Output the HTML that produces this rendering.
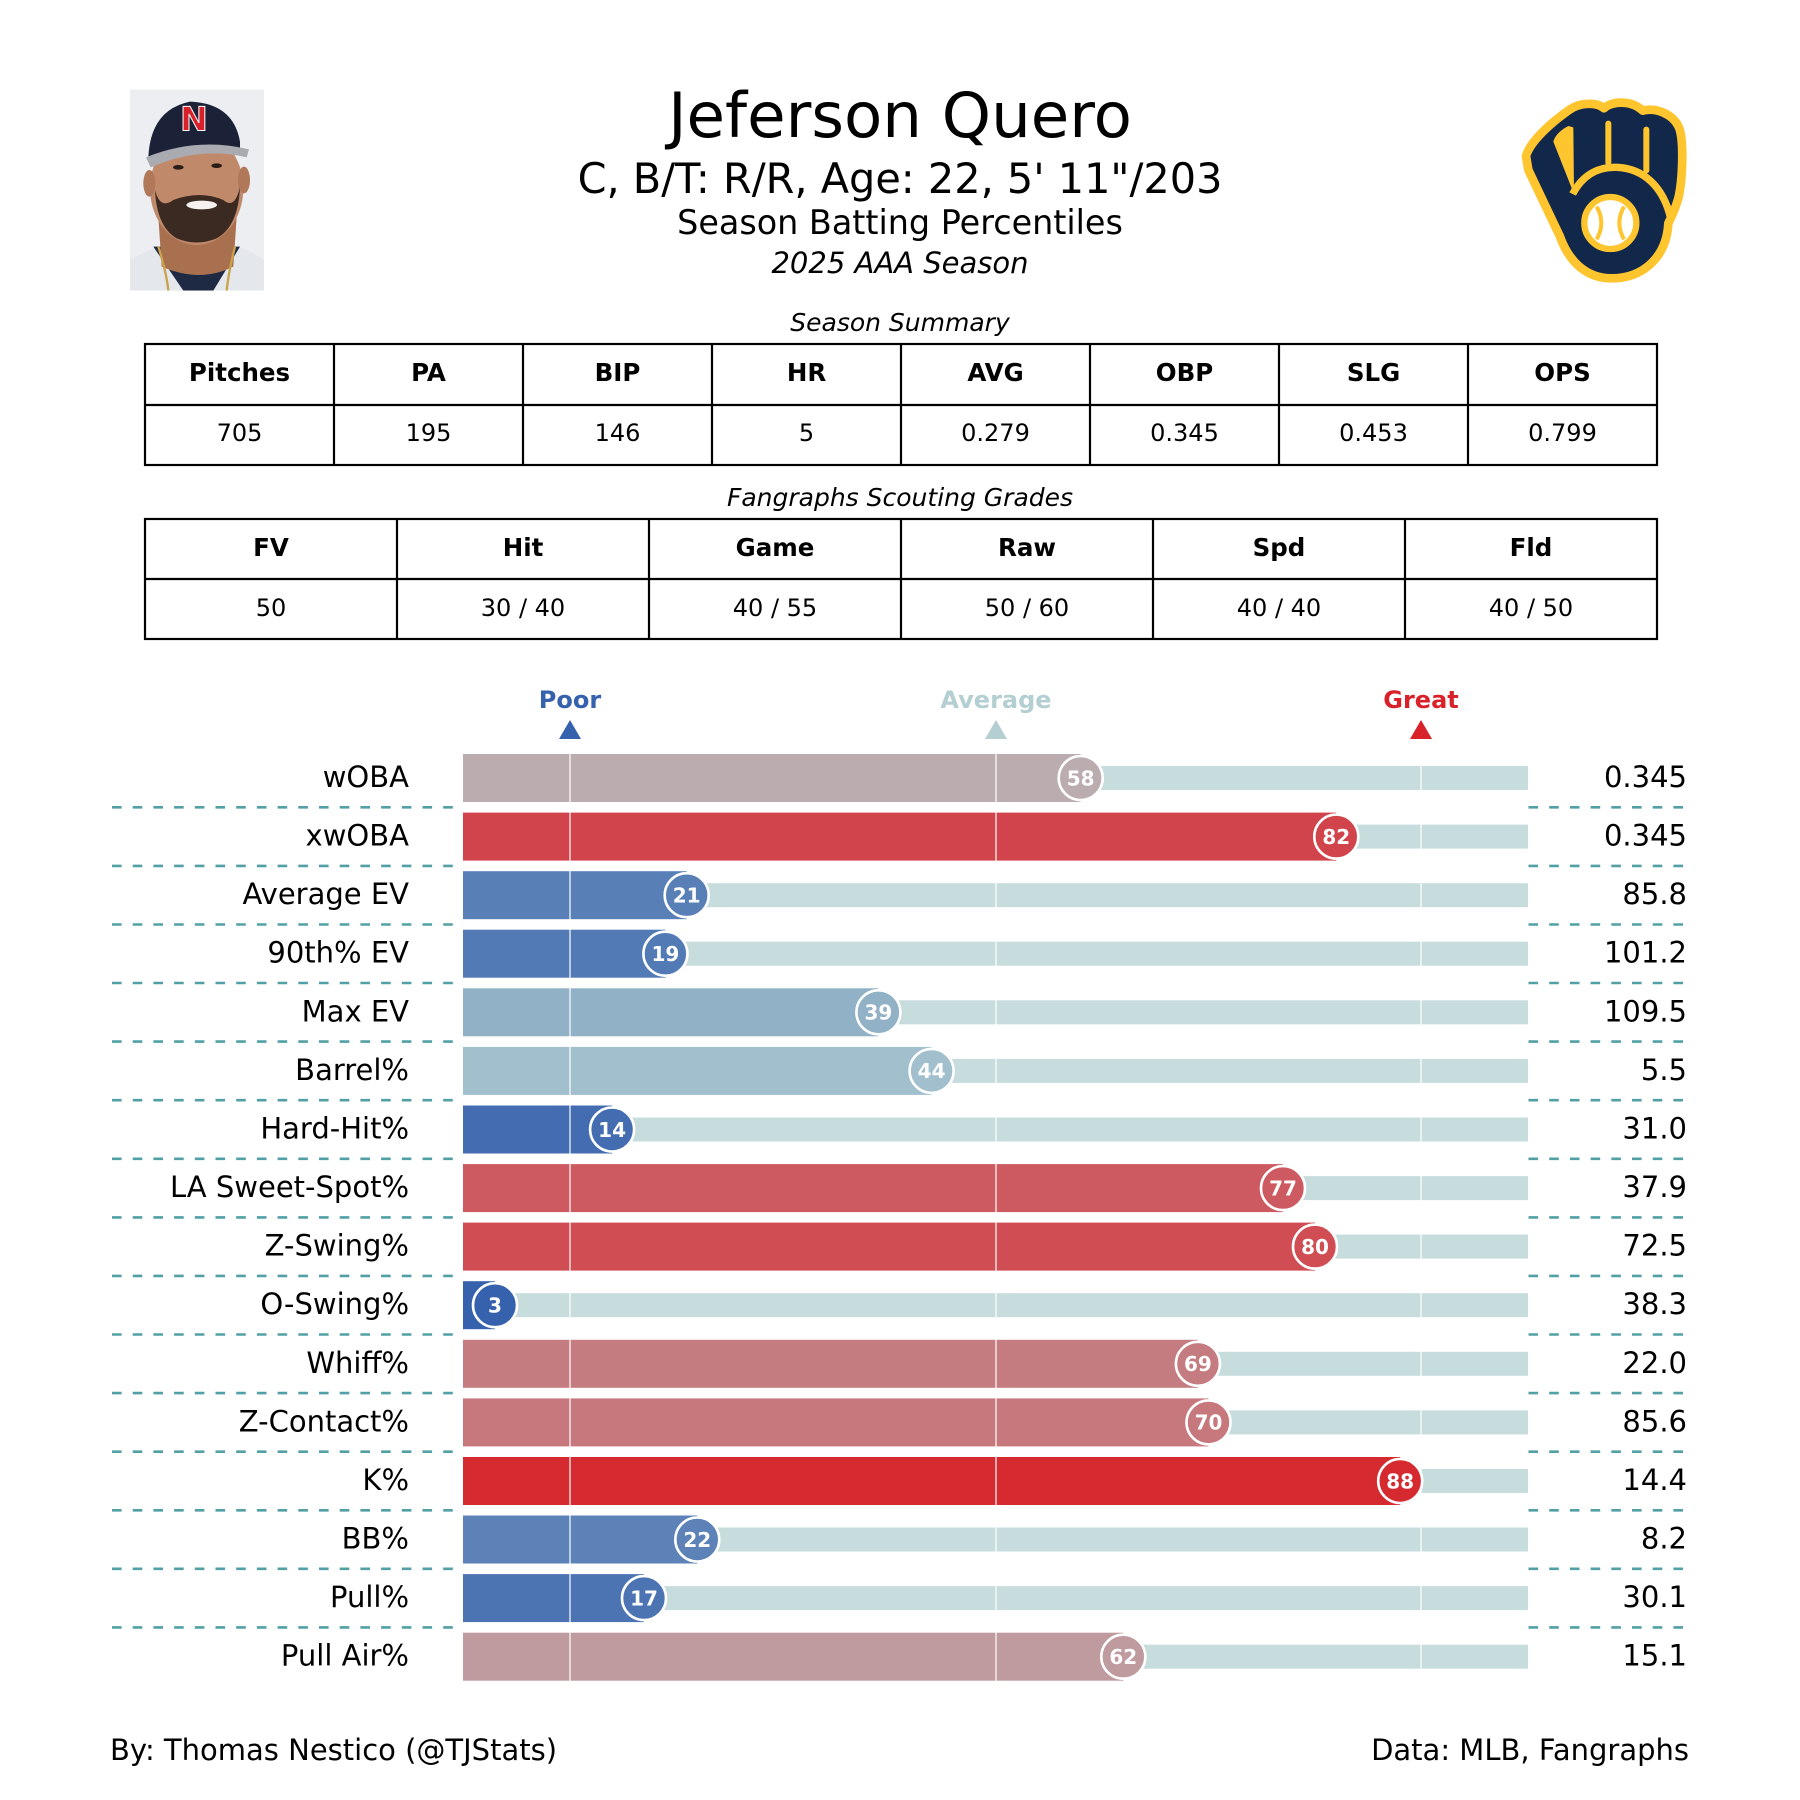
<!DOCTYPE html>
<html><head><meta charset="utf-8"><style>
html,body{margin:0;padding:0;background:#fff;}
svg{display:block;}
text{font-family:"DejaVu Sans","Liberation Sans",sans-serif;}
</style></head><body>
<svg width="1800" height="1800" viewBox="0 0 1800 1800" xmlns="http://www.w3.org/2000/svg">
<rect width="1800" height="1800" fill="#fff"/>

<!-- Photo placeholder -->
<defs><clipPath id="pc"><rect x="90" y="58" width="402" height="604"/></clipPath></defs>
<g transform="translate(100,70) scale(0.33333)">
 <g clip-path="url(#pc)">
  <rect x="90" y="58" width="402" height="604" fill="#eceef1"/>
  <path d="M90,570 Q160,530 200,525 L400,525 Q450,540 492,570 L492,662 L90,662 Z" fill="#e4e7eb"/>
  <path d="M160,530 L420,530 L340,662 L250,662 Z" fill="#1e2a44"/>
  <path d="M175,440 L410,440 L400,590 Q300,640 185,590 Z" fill="#a8704f"/>
  <ellipse cx="290" cy="355" rx="140" ry="170" fill="#c08a6a"/>
  <ellipse cx="148" cy="340" rx="18" ry="40" fill="#b07858"/>
  <ellipse cx="432" cy="330" rx="18" ry="40" fill="#b07858"/>
  <path d="M165,360 Q170,470 230,505 Q290,530 350,505 Q415,470 420,350 Q405,420 370,390 Q300,360 220,390 Q180,420 165,360 Z" fill="#3a2a22"/>
  <ellipse cx="305" cy="405" rx="46" ry="13" fill="#f4f1ee"/>
  <ellipse cx="235" cy="292" rx="16" ry="7" fill="#2a1e18"/>
  <ellipse cx="350" cy="287" rx="16" ry="7" fill="#2a1e18"/>
  <path d="M145,265 Q150,120 270,95 Q400,100 420,215 L420,240 Q300,215 145,265 Z" fill="#1b2238"/>
  <path d="M138,262 Q290,200 447,238 L440,262 Q300,228 152,292 Z" fill="#a9abb1"/>
  <path d="M175,530 Q200,610 205,662 M405,530 Q385,610 380,662" stroke="#c9a24a" stroke-width="7" fill="none"/>
 </g>
 <text x="282" y="182" text-anchor="middle" font-family="Liberation Serif,serif" font-weight="bold" font-size="100" fill="#d8202a" stroke="#fff" stroke-width="3">N</text>
</g>

<!-- Logo -->
<g transform="translate(1500,70) scale(0.33333)">
 <path d="M78,258 C90,215 150,160 210,118 C240,98 290,95 312,115 C335,92 395,90 428,122 C465,112 520,130 538,175 C552,215 548,330 535,385 C525,420 515,440 505,460 C500,560 430,625 335,625 C255,625 205,570 180,500 L85,300 Z" fill="#12284b" stroke="#ffc52f" stroke-width="26" stroke-linejoin="round"/>
 <path d="M160,215 C165,195 185,178 205,168 L220,172 L222,372 Z" fill="#ffc52f"/>
 <rect x="316" y="152" width="18" height="135" rx="9" fill="#ffc52f"/>
 <rect x="430" y="170" width="18" height="140" rx="9" fill="#ffc52f"/>
 <path d="M218,372 C250,310 300,290 350,292 C430,295 490,350 512,445" stroke="#ffc52f" stroke-width="22" fill="none"/>
 <circle cx="331" cy="459" r="78" fill="#fff" stroke="#ffc52f" stroke-width="19"/>
 <path d="M290,410 Q318,459 290,508 M372,410 Q344,459 372,508" stroke="#ffc52f" stroke-width="12" fill="none"/>
</g>

<!-- Titles -->
<text x="900" y="137" text-anchor="middle" font-size="62.6" fill="#000">Jeferson Quero</text>
<text x="900" y="193" text-anchor="middle" font-size="41.4" fill="#000">C, B/T: R/R, Age: 22, 5' 11"/203</text>
<text x="900" y="234" text-anchor="middle" font-size="33.4" fill="#000">Season Batting Percentiles</text>
<text x="900" y="273" text-anchor="middle" font-size="29" font-style="italic" fill="#000">2025 AAA Season</text>

<!-- Season summary table -->
<text x="900" y="331" text-anchor="middle" font-size="25" font-style="italic" fill="#000">Season Summary</text>
<g stroke="#000" stroke-width="2.2" fill="none">
 <rect x="145" y="344" width="1512" height="121"/>
 <line x1="145" y1="405" x2="1657" y2="405"/>
 <line x1="334" y1="344" x2="334" y2="465"/>
 <line x1="523" y1="344" x2="523" y2="465"/>
 <line x1="712" y1="344" x2="712" y2="465"/>
 <line x1="901" y1="344" x2="901" y2="465"/>
 <line x1="1090" y1="344" x2="1090" y2="465"/>
 <line x1="1279" y1="344" x2="1279" y2="465"/>
 <line x1="1468" y1="344" x2="1468" y2="465"/>
</g>
<g font-size="24.5" font-weight="bold" text-anchor="middle" fill="#000">
 <text x="239.5" y="381">Pitches</text><text x="428.5" y="381">PA</text><text x="617.5" y="381">BIP</text><text x="806.5" y="381">HR</text>
 <text x="995.5" y="381">AVG</text><text x="1184.5" y="381">OBP</text><text x="1373.5" y="381">SLG</text><text x="1562.5" y="381">OPS</text>
</g>
<g font-size="24" text-anchor="middle" fill="#000">
 <text x="239.5" y="441">705</text><text x="428.5" y="441">195</text><text x="617.5" y="441">146</text><text x="806.5" y="441">5</text>
 <text x="995.5" y="441">0.279</text><text x="1184.5" y="441">0.345</text><text x="1373.5" y="441">0.453</text><text x="1562.5" y="441">0.799</text>
</g>

<!-- Fangraphs table -->
<text x="900" y="506" text-anchor="middle" font-size="25" font-style="italic" fill="#000">Fangraphs Scouting Grades</text>
<g stroke="#000" stroke-width="2.2" fill="none">
 <rect x="145" y="519" width="1512" height="120"/>
 <line x1="145" y1="579" x2="1657" y2="579"/>
 <line x1="397" y1="519" x2="397" y2="639"/>
 <line x1="649" y1="519" x2="649" y2="639"/>
 <line x1="901" y1="519" x2="901" y2="639"/>
 <line x1="1153" y1="519" x2="1153" y2="639"/>
 <line x1="1405" y1="519" x2="1405" y2="639"/>
</g>
<g font-size="24.5" font-weight="bold" text-anchor="middle" fill="#000">
 <text x="271" y="556">FV</text><text x="523" y="556">Hit</text><text x="775" y="556">Game</text>
 <text x="1027" y="556">Raw</text><text x="1279" y="556">Spd</text><text x="1531" y="556">Fld</text>
</g>
<g font-size="24" text-anchor="middle" fill="#000">
 <text x="271" y="616">50</text><text x="523" y="616">30 / 40</text><text x="775" y="616">40 / 55</text>
 <text x="1027" y="616">50 / 60</text><text x="1279" y="616">40 / 40</text><text x="1531" y="616">40 / 50</text>
</g>

<!-- Poor / Average / Great -->
<g font-size="24" font-weight="bold" text-anchor="middle">
 <text x="570" y="708" fill="#3661ad">Poor</text>
 <text x="996" y="708" fill="#b4cfd1">Average</text>
 <text x="1421" y="708" fill="#d82129">Great</text>
</g>
<polygon points="559,739 581,739 570,720" fill="#3661ad"/>
<polygon points="985,739 1007,739 996,720" fill="#b4cfd1"/>
<polygon points="1410,739 1432,739 1421,720" fill="#d82129"/>

<!-- Background bars -->
<g fill="#c7dcdd">
 <rect x="463" y="766" width="1065" height="24"/>
 <rect x="463" y="824.6" width="1065" height="24"/>
 <rect x="463" y="883.2" width="1065" height="24"/>
 <rect x="463" y="941.7" width="1065" height="24"/>
 <rect x="463" y="1000.3" width="1065" height="24"/>
 <rect x="463" y="1058.9" width="1065" height="24"/>
 <rect x="463" y="1117.5" width="1065" height="24"/>
 <rect x="463" y="1176.1" width="1065" height="24"/>
 <rect x="463" y="1234.6" width="1065" height="24"/>
 <rect x="463" y="1293.2" width="1065" height="24"/>
 <rect x="463" y="1351.8" width="1065" height="24"/>
 <rect x="463" y="1410.4" width="1065" height="24"/>
 <rect x="463" y="1469" width="1065" height="24"/>
 <rect x="463" y="1527.5" width="1065" height="24"/>
 <rect x="463" y="1586.1" width="1065" height="24"/>
 <rect x="463" y="1644.7" width="1065" height="24"/>
</g>

<!-- Colored bars -->
<rect x="463" y="754" width="617.7" height="48" fill="rgb(187,172,175)"/>
<rect x="463" y="812.6" width="873.3" height="48" fill="rgb(209,68,75)"/>
<rect x="463" y="871.2" width="223.7" height="48" fill="rgb(89,127,183)"/>
<rect x="463" y="929.7" width="202.4" height="48" fill="rgb(82,122,181)"/>
<rect x="463" y="988.3" width="415.4" height="48" fill="rgb(145,177,199)"/>
<rect x="463" y="1046.9" width="468.6" height="48" fill="rgb(161,191,204)"/>
<rect x="463" y="1105.5" width="149.1" height="48" fill="rgb(67,108,177)"/>
<rect x="463" y="1164.1" width="820" height="48" fill="rgb(204,90,96)"/>
<rect x="463" y="1222.6" width="852" height="48" fill="rgb(207,77,83)"/>
<rect x="463" y="1281.2" width="32" height="48" fill="rgb(54,97,173)"/>
<rect x="463" y="1339.8" width="734.9" height="48" fill="rgb(197,124,129)"/>
<rect x="463" y="1398.4" width="745.5" height="48" fill="rgb(198,120,125)"/>
<rect x="463" y="1457" width="937.2" height="48" fill="rgb(214,42,49)"/>
<rect x="463" y="1515.5" width="234.3" height="48" fill="rgb(92,130,184)"/>
<rect x="463" y="1574.1" width="181" height="48" fill="rgb(76,116,179)"/>
<rect x="463" y="1632.7" width="660.3" height="48" fill="rgb(191,155,159)"/>

<!-- Vertical reference lines -->
<g stroke="#ffffff" stroke-opacity="0.6" stroke-width="2">
 <line x1="570" y1="754" x2="570" y2="1681"/>
 <line x1="996" y1="754" x2="996" y2="1681"/>
 <line x1="1421" y1="754" x2="1421" y2="1681"/>
</g>

<!-- Circles -->
<g stroke="#fff" stroke-width="2.6">
 <circle cx="1080.7" cy="778" r="22" fill="rgb(187,172,175)"/>
 <circle cx="1336.3" cy="836.6" r="22" fill="rgb(209,68,75)"/>
 <circle cx="686.7" cy="895.2" r="22" fill="rgb(89,127,183)"/>
 <circle cx="665.4" cy="953.7" r="22" fill="rgb(82,122,181)"/>
 <circle cx="878.4" cy="1012.3" r="22" fill="rgb(145,177,199)"/>
 <circle cx="931.6" cy="1070.9" r="22" fill="rgb(161,191,204)"/>
 <circle cx="612.1" cy="1129.5" r="22" fill="rgb(67,108,177)"/>
 <circle cx="1283" cy="1188.1" r="22" fill="rgb(204,90,96)"/>
 <circle cx="1315" cy="1246.6" r="22" fill="rgb(207,77,83)"/>
 <circle cx="495" cy="1305.2" r="22" fill="rgb(54,97,173)"/>
 <circle cx="1197.9" cy="1363.8" r="22" fill="rgb(197,124,129)"/>
 <circle cx="1208.5" cy="1422.4" r="22" fill="rgb(198,120,125)"/>
 <circle cx="1400.2" cy="1481" r="22" fill="rgb(214,42,49)"/>
 <circle cx="697.3" cy="1539.5" r="22" fill="rgb(92,130,184)"/>
 <circle cx="644" cy="1598.1" r="22" fill="rgb(76,116,179)"/>
 <circle cx="1123.3" cy="1656.7" r="22" fill="rgb(191,155,159)"/>
</g>
<g font-size="20" font-weight="bold" fill="#fff" text-anchor="middle">
 <text x="1080.7" y="785.3">58</text>
 <text x="1336.3" y="843.9">82</text>
 <text x="686.7" y="902.5">21</text>
 <text x="665.4" y="961">19</text>
 <text x="878.4" y="1019.6">39</text>
 <text x="931.6" y="1078.2">44</text>
 <text x="612.1" y="1136.8">14</text>
 <text x="1283" y="1195.4">77</text>
 <text x="1315" y="1253.9">80</text>
 <text x="495" y="1312.5">3</text>
 <text x="1197.9" y="1371.1">69</text>
 <text x="1208.5" y="1429.7">70</text>
 <text x="1400.2" y="1488.3">88</text>
 <text x="697.3" y="1546.8">22</text>
 <text x="644" y="1605.4">17</text>
 <text x="1123.3" y="1664">62</text>
</g>

<!-- Row labels -->
<g font-size="29" text-anchor="end" fill="#000">
 <text x="409" y="787">wOBA</text>
 <text x="409" y="845.6">xwOBA</text>
 <text x="409" y="904.2">Average EV</text>
 <text x="409" y="962.7">90th% EV</text>
 <text x="409" y="1021.3">Max EV</text>
 <text x="409" y="1079.9">Barrel%</text>
 <text x="409" y="1138.5">Hard-Hit%</text>
 <text x="409" y="1197.1">LA Sweet-Spot%</text>
 <text x="409" y="1255.6">Z-Swing%</text>
 <text x="409" y="1314.2">O-Swing%</text>
 <text x="409" y="1372.8">Whiff%</text>
 <text x="409" y="1431.4">Z-Contact%</text>
 <text x="409" y="1490">K%</text>
 <text x="409" y="1548.5">BB%</text>
 <text x="409" y="1607.1">Pull%</text>
 <text x="409" y="1665.7">Pull Air%</text>
</g>
<g font-size="29" text-anchor="end" fill="#000">
 <text x="1687" y="787">0.345</text>
 <text x="1687" y="845.6">0.345</text>
 <text x="1687" y="904.2">85.8</text>
 <text x="1687" y="962.7">101.2</text>
 <text x="1687" y="1021.3">109.5</text>
 <text x="1687" y="1079.9">5.5</text>
 <text x="1687" y="1138.5">31.0</text>
 <text x="1687" y="1197.1">37.9</text>
 <text x="1687" y="1255.6">72.5</text>
 <text x="1687" y="1314.2">38.3</text>
 <text x="1687" y="1372.8">22.0</text>
 <text x="1687" y="1431.4">85.6</text>
 <text x="1687" y="1490">14.4</text>
 <text x="1687" y="1548.5">8.2</text>
 <text x="1687" y="1607.1">30.1</text>
 <text x="1687" y="1665.7">15.1</text>
</g>

<!-- Dashed separators -->
<g stroke="#52a0a5" stroke-width="2.6" stroke-dasharray="9.6 11.1">
 <line x1="112" y1="807.3" x2="456" y2="807.3"/><line x1="1528.5" y1="807.3" x2="1687" y2="807.3"/>
 <line x1="112" y1="865.9" x2="456" y2="865.9"/><line x1="1528.5" y1="865.9" x2="1687" y2="865.9"/>
 <line x1="112" y1="924.5" x2="456" y2="924.5"/><line x1="1528.5" y1="924.5" x2="1687" y2="924.5"/>
 <line x1="112" y1="983" x2="456" y2="983"/><line x1="1528.5" y1="983" x2="1687" y2="983"/>
 <line x1="112" y1="1041.6" x2="456" y2="1041.6"/><line x1="1528.5" y1="1041.6" x2="1687" y2="1041.6"/>
 <line x1="112" y1="1100.2" x2="456" y2="1100.2"/><line x1="1528.5" y1="1100.2" x2="1687" y2="1100.2"/>
 <line x1="112" y1="1158.8" x2="456" y2="1158.8"/><line x1="1528.5" y1="1158.8" x2="1687" y2="1158.8"/>
 <line x1="112" y1="1217.4" x2="456" y2="1217.4"/><line x1="1528.5" y1="1217.4" x2="1687" y2="1217.4"/>
 <line x1="112" y1="1275.9" x2="456" y2="1275.9"/><line x1="1528.5" y1="1275.9" x2="1687" y2="1275.9"/>
 <line x1="112" y1="1334.5" x2="456" y2="1334.5"/><line x1="1528.5" y1="1334.5" x2="1687" y2="1334.5"/>
 <line x1="112" y1="1393.1" x2="456" y2="1393.1"/><line x1="1528.5" y1="1393.1" x2="1687" y2="1393.1"/>
 <line x1="112" y1="1451.7" x2="456" y2="1451.7"/><line x1="1528.5" y1="1451.7" x2="1687" y2="1451.7"/>
 <line x1="112" y1="1510.3" x2="456" y2="1510.3"/><line x1="1528.5" y1="1510.3" x2="1687" y2="1510.3"/>
 <line x1="112" y1="1568.8" x2="456" y2="1568.8"/><line x1="1528.5" y1="1568.8" x2="1687" y2="1568.8"/>
 <line x1="112" y1="1627.4" x2="456" y2="1627.4"/><line x1="1528.5" y1="1627.4" x2="1687" y2="1627.4"/>
</g>

<!-- Footer -->
<text x="110" y="1760" font-size="29" fill="#000">By: Thomas Nestico (@TJStats)</text>
<text x="1689" y="1760" font-size="29" text-anchor="end" fill="#000">Data: MLB, Fangraphs</text>
</svg>
</body></html>
